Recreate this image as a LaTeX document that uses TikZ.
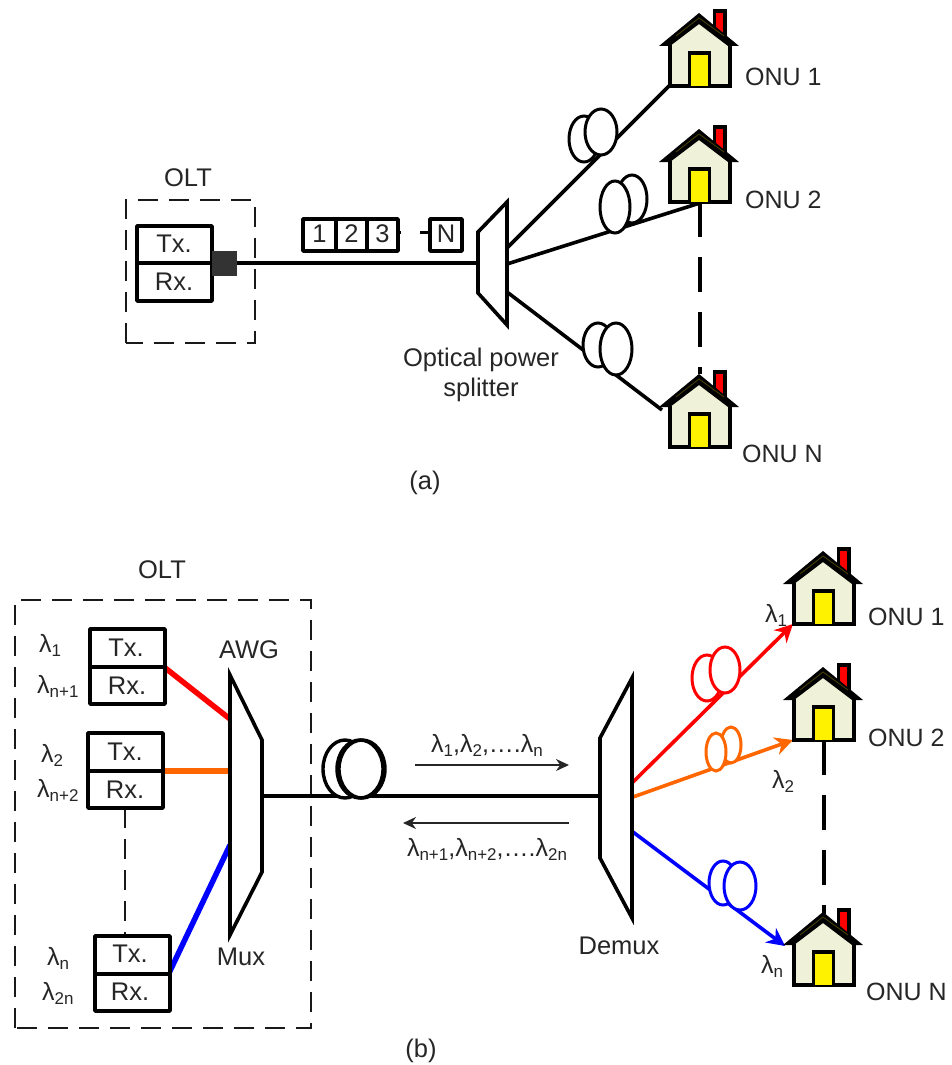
\documentclass[tikz,border=0pt]{standalone}
\usepackage{fontspec}
\setmainfont{Liberation Sans}
\usetikzlibrary{arrows.meta}
\definecolor{txt}{HTML}{262626}
\definecolor{wall}{HTML}{EFF1D8}
\definecolor{roofline}{HTML}{4A4400}
\definecolor{orng}{HTML}{FF6600}
\tikzset{
  x=1pt,y=-1pt,
  lab/.style={font=\fontsize{25.5}{29}\selectfont,text=txt,inner sep=0pt,align=center},
  onulab/.style={font=\fontsize{25}{29}\selectfont,text=txt,inner sep=0pt,anchor=west},
  lam/.style={font=\fontsize{25}{28}\selectfont,text=txt,inner sep=0pt},
  thickline/.style={line width=3.6pt,draw=black},
  dashbox/.style={line width=2.6pt,draw=black!90,dash pattern=on 20pt off 11pt},
  trx/.style={line width=3.6pt,draw=black,fill=white,line join=round},
  house/.pic={
    \draw[line width=3.5pt,fill=red] (14.5,-75) rectangle (25,-45);
    \fill[wall] (-30,-41) -- (-1,-66) -- (30,-41) -- (30,0) -- (-30,0) -- cycle;
    \draw[line width=3.6pt,line join=miter] (-30,-41) -- (-30,0) -- (30,0) -- (30,-41);
    \fill[black] (-41,-40) -- (-1,-73) -- (39,-40) -- (28,-40) -- (-1,-62) -- (-30,-40) -- cycle;
    \draw[line width=.8pt,roofline] (-24,-50) -- (-1,-68) -- (24,-50);
    \draw[line width=3.6pt,fill=yellow] (-10.5,0) -- (-10.5,-33) -- (9.5,-33) -- (9.5,0);
  },
}
\newcommand{\lamsub}[1]{\raisebox{-.3ex}{\fontsize{17}{17}\selectfont #1}}
\newcommand{\lm}[1]{λ\lamsub{#1}}
\begin{document}
\begin{tikzpicture}
\useasboundingbox (0,0) rectangle (952,1065);

% ---------- (a) ----------
\coordinate (oa1) at (700,86);
\coordinate (oa2) at (700,202);
\coordinate (oan) at (700,447);
\coordinate (aln1) at (669,86);
\coordinate (aln2) at (700,203);
\coordinate (alnn) at (662,410);
\coordinate (as1) at (507,248);
\coordinate (as2) at (507,264);
\coordinate (asn) at (507,292);
\coordinate (afa) at (237,263);
\coordinate (afb) at (478,263);

\node[lab] (oltA) at (188,178) {OLT};
\draw[dashbox] (126,343) -- (126,200) -- (255,200) -- (255,343) -- cycle;
\draw[trx] (137,226) rectangle (212,301);
\draw[line width=3.6pt] (137,263) -- (212,263);
\node[lab] (txA) at (174,244) {Tx.};
\node[lab] (rxA) at (174,282) {Rx.};
\fill[black!80] (212,251) rectangle (237,276);
\draw[thickline] (afa) -- (afb);

\draw[trx] (303,219) rectangle (398,251);
\draw[line width=3.2pt] (336,219) -- (336,251) (367,219) -- (367,251);
\node[lab] (n1) at (319.5,234) {1};
\node[lab] (n2) at (351.5,234) {2};
\node[lab] (n3) at (382.5,234) {3};
\draw[trx] (430,219) rectangle (462,251);
\node[lab] (nN) at (446,234) {N};
\coordinate (gapa) at (398,232);
\coordinate (gapb) at (401,232);
\coordinate (gapc) at (420,232);
\coordinate (gapd) at (430,232);
\draw[line width=3pt] (gapa) -- (gapb) (gapc) -- (gapd);

\draw[thickline] (as1) -- (aln1);
\draw[thickline] (as2) -- (aln2);
\draw[thickline] (asn) -- (alnn);
\draw[trx,line join=miter] (478,232) -- (507,202) -- (507,325) -- (478,293) -- cycle;

\draw[line width=3pt,fill=white] (584,139) ellipse [x radius=15, y radius=23];
\draw[line width=3pt,fill=white] (601,132) ellipse [x radius=16, y radius=23];
\draw[line width=3pt,fill=white] (632,199) ellipse [x radius=15, y radius=24];
\draw[line width=3pt,fill=white] (615,207) ellipse [x radius=15, y radius=26];
\draw[line width=3pt,fill=white] (598,345) ellipse [x radius=15, y radius=22];
\draw[line width=3pt,fill=white] (616,349) ellipse [x radius=16, y radius=26];

\coordinate (stubA) at (700,374);
\draw[line width=3.6pt,dash pattern=on 35pt off 20pt] (oa2) -- (stubA);

\pic at (oa1) {house};
\pic at (oa2) {house};
\pic at (oan) {house};
\node[onulab] (onuA1) at (745,77) {ONU 1};
\node[onulab] (onuA2) at (745,200) {ONU 2};
\node[onulab] (onuAn) at (742,454) {ONU N};
\node[lab] (spl) at (481,375) {Optical power\\[1pt]splitter};
\node[lab] (capA) at (425,483) {(a)};

% ---------- (b) ----------
\coordinate (ob1) at (824,624);
\coordinate (ob2) at (824,740);
\coordinate (obn) at (824,985);
\coordinate (f1) at (262,796);
\coordinate (f2) at (600,796);
\coordinate (r0) at (633,782);
\coordinate (r1) at (793,624);
\coordinate (g0) at (633,797);
\coordinate (g1) at (793,740);
\coordinate (b0) at (633,832);
\coordinate (b1) at (785,946);

\node[lab] (oltB) at (162,570) {OLT};
\draw[dashbox] (15,1028) -- (15,600) -- (311,600) -- (311,1028) -- cycle;

\coordinate (t1) at (164,667);
\coordinate (t2) at (162,771);
\coordinate (t3) at (169,973);
\coordinate (a1) at (230,719);
\coordinate (a2) at (230,771);
\coordinate (a3) at (230,845);

\coordinate (dd1) at (125,808);
\coordinate (dd2) at (125,936);
\draw[line width=2.6pt,draw=black!90,dash pattern=on 20pt off 11pt] (dd1) -- (dd2);

\draw[line width=5.5pt,red] (t1) -- (a1);
\draw[line width=5.5pt,orng] (t2) -- (a2);
\draw[line width=5.5pt,blue] (t3) -- (a3);

\foreach \x/\y in {90/629,88/733,95/936}{
  \draw[trx] (\x,\y) rectangle (\x+75,\y+75);
  \draw[line width=3.6pt] (\x,\y+38) -- (\x+75,\y+38);
}
\node[lab] (tx1) at (126,648) {Tx.};
\node[lab] (rx1) at (127,686) {Rx.};
\node[lab] (tx2) at (125,752) {Tx.};
\node[lab] (rx2) at (125,790) {Rx.};
\node[lab] (tx3) at (130,954) {Tx.};
\node[lab] (rx3) at (130,992) {Rx.};

\node[lam,anchor=west] (l1) at (39,645) {\lm{1}};
\node[lam,anchor=west] (l2) at (37,686) {\lm{n+1}};
\node[lam,anchor=west] (l3) at (41,755) {\lm{2}};
\node[lam,anchor=west] (l4) at (37,790) {\lm{n+2}};
\node[lam,anchor=west] (l5) at (47,958) {\lm{n}};
\node[lam,anchor=west] (l6) at (42,993) {\lm{2n}};

\draw[thickline] (f1) -- (f2);
\draw[trx,line join=miter] (230,675) -- (262,740) -- (262,872) -- (230,935) -- cycle;
\node[lab] (awg) at (249,650) {AWG};
\node[lab] (mux) at (241,957) {Mux};

\draw[line width=3.4pt,fill=white] (345,769) ellipse [x radius=22, y radius=29];
\draw[line width=3.4pt,fill=white] (362,769) ellipse [x radius=23, y radius=29];
\draw[line width=3.4pt] (360,769) ellipse [x radius=23, y radius=29];

\node[lam] (top) at (487,745) {\lm{1},\lm{2},….\lm{n}};
\node[lam] (bot) at (487,849) {\lm{n+1},\lm{n+2},….\lm{2n}};
\coordinate (ta) at (415,765);
\coordinate (tb) at (569,765);
\coordinate (ba) at (569,823);
\coordinate (bb) at (403,823);
\draw[line width=1.4pt,black!85,-{Stealth[length=13pt,width=12pt]}] (ta) -- (tb);
\draw[line width=1.4pt,black!85,-{Stealth[length=13pt,width=12pt]}] (ba) -- (bb);

\draw[line width=3.6pt,red,-{Stealth[length=18pt,width=18pt]}] (r0) -- (r1);
\draw[line width=3.6pt,orng,-{Stealth[length=18pt,width=18pt]}] (g0) -- (g1);
\draw[line width=3.6pt,blue,-{Stealth[length=18pt,width=18pt]}] (b0) -- (b1);
\draw[trx,line join=miter] (600,738) -- (632,678) -- (632,918) -- (600,858) -- cycle;
\node[lab] (dmx) at (619,946) {Demux};

\draw[line width=3pt,red,fill=white] (707,678) ellipse [x radius=15, y radius=23];
\draw[line width=3pt,red,fill=white] (725,670) ellipse [x radius=15, y radius=23];
\draw[line width=3pt,orng,fill=white] (731,745) ellipse [x radius=10, y radius=18];
\draw[line width=3pt,orng,fill=white] (716,752) ellipse [x radius=10, y radius=19];
\draw[line width=3pt,blue,fill=white] (723,883) ellipse [x radius=14, y radius=22];
\draw[line width=3pt,blue,fill=white] (740,886) ellipse [x radius=16, y radius=24];

\coordinate (stubB) at (824,914);
\draw[line width=3.6pt,dash pattern=on 35pt off 20pt] (ob2) -- (stubB);

\pic at (ob1) {house};
\pic at (ob2) {house};
\pic at (obn) {house};
\node[onulab] (onuB1) at (868,617) {ONU 1};
\node[onulab] (onuB2) at (868,738) {ONU 2};
\node[onulab] (onuBn) at (866,992) {ONU N};
\node[lam,anchor=west] (lb1) at (765,615) {\lm{1}};
\node[lam,anchor=west] (lb2) at (772,781) {\lm{2}};
\node[lam,anchor=west] (lbn) at (761,966) {\lm{n}};
\node[lab] (capB) at (421,1051) {(b)};
\end{tikzpicture}
\end{document}
